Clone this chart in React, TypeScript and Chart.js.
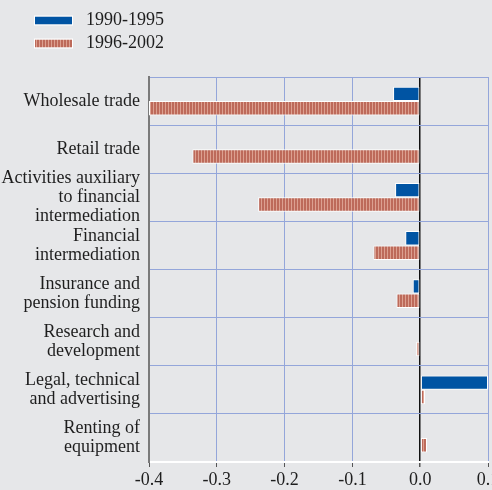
import React, { useEffect, useRef } from "react";
import { Chart, registerables } from "chart.js";

Chart.register(...registerables);

const categories: (string | string[])[] = [
  "Wholesale trade",
  "Retail trade",
  ["Activities auxiliary", "to financial", "intermediation"],
  ["Financial", "intermediation"],
  ["Insurance and", "pension funding"],
  ["Research and", "development"],
  ["Legal, technical", "and advertising"],
  ["Renting of", "equipment"],
];
const seriesLabels = ["1990-1995", "1996-2002"];
const values1990_1995 = [-0.04, 0, -0.037, -0.022, -0.011, 0, 0.1, 0.001];
const values1996_2002 = [-0.4, -0.336, -0.239, -0.069, -0.035, -0.006, 0.007, 0.01];
const xTicks = [-0.4, -0.3, -0.2, -0.1, 0.0, 0.1];

const BG = "#e6e7e9";
const BLUE = "#0054a3";
const GRID = "#94a6da";
const FONT = "'Liberation Serif', 'Times New Roman', serif";

function makeStripe(ctx: CanvasRenderingContext2D): CanvasPattern | string {
  const c = document.createElement("canvas");
  c.width = 3;
  c.height = 1;
  const p = c.getContext("2d");
  if (!p) return "#c97b6b";
  p.fillStyle = "#dca090";
  p.fillRect(0, 0, 1, 1);
  p.fillStyle = "#bd6a5a";
  p.fillRect(1, 0, 2, 1);
  return ctx.createPattern(c, "repeat") || "#c97b6b";
}

export default function App() {
  const ref = useRef<HTMLCanvasElement>(null);
  useEffect(() => {
    document.body.style.margin = "0";
    document.body.style.background = BG;
    const canvas = ref.current!;
    const ctx = canvas.getContext("2d")!;
    const stripe = makeStripe(ctx);

    const bgPlugin = {
      id: "bg",
      beforeDraw(chart: any) {
        const c = chart.ctx;
        c.save();
        c.fillStyle = BG;
        c.fillRect(0, 0, chart.width, chart.height);
        c.restore();
      },
    };
    const legendPlugin = {
      id: "customLegend",
      afterDraw(chart: any) {
        const c = chart.ctx;
        c.save();
        const ys = [20.5, 43.5];
        chart.data.datasets.forEach((ds: any, i: number) => {
          const y = ys[i];
          c.fillStyle = ds.backgroundColor;
          c.fillRect(35, y - 4, 37, 8);
          c.strokeStyle = "#ffffff";
          c.lineWidth = 1;
          c.strokeRect(34.5, y - 4.5, 38, 9);
          c.fillStyle = "#1e1e1e";
          c.font = `18px ${FONT}`;
          c.textBaseline = "middle";
          c.textAlign = "left";
          c.fillText(ds.label, 86, y);
        });
        c.restore();
      },
    };

    const chart = new Chart(ctx, {
      type: "bar",
      data: {
        labels: categories as any,
        datasets: [
          {
            label: seriesLabels[0],
            data: values1990_1995,
            backgroundColor: BLUE,
            borderColor: "#ffffff",
            borderWidth: 1,
            borderSkipped: false,
            categoryPercentage: 0.6,
            barPercentage: 1,
          },
          {
            label: seriesLabels[1],
            data: values1996_2002,
            backgroundColor: stripe as any,
            borderColor: "#ffffff",
            borderWidth: 1,
            borderSkipped: false,
            categoryPercentage: 0.6,
            barPercentage: 1,
          },
        ],
      },
      options: {
        indexAxis: "y",
        responsive: false,
        animation: false,
        layout: { padding: { top: 77, right: 4, left: 0, bottom: 0 } },
        plugins: {
          legend: { display: false },
          tooltip: { enabled: false },
        },
        scales: {
          x: {
            type: "linear",
            min: -0.4,
            max: 0.1,
            afterBuildTicks: (scale: any) => {
              scale.ticks = xTicks.map((v) => ({ value: v }));
            },
            afterFit: (scale: any) => {
              scale.paddingLeft = 0;
              scale.paddingRight = 0;
              scale.height = 28;
            },
            ticks: {
              color: "#1e1e1e",
              font: { family: FONT, size: 18 },
              padding: 2,
              maxRotation: 0,
              autoSkip: false,
              callback: (v: any) => Number(v).toFixed(1),
            },
            grid: {
              color: (c: any) => (c.tick && Math.abs(c.tick.value) < 1e-9 ? "#111" : GRID),
              lineWidth: (c: any) => (c.tick && Math.abs(c.tick.value) < 1e-9 ? 1.5 : 1),
              tickColor: "#555",
              tickLength: 5,
            },
            border: { color: "#ffffff", width: 2 },
          },
          y: {
            afterFit: (scale: any) => {
              scale.width = 149;
            },
            ticks: {
              color: "#1e1e1e",
              font: { family: FONT, size: 18, lineHeight: 1.06 },
              padding: 9,
              autoSkip: false,
            },
            grid: {
              color: GRID,
              offset: true,
              drawTicks: false,
            },
            border: { color: "#7a7a7a", width: 2 },
          },
        },
      },
      plugins: [bgPlugin, legendPlugin],
    });
    return () => chart.destroy();
  }, []);
  return (
    <div style={{ width: 492, height: 490 }}>
      <canvas ref={ref} width={492} height={490} />
    </div>
  );
}
